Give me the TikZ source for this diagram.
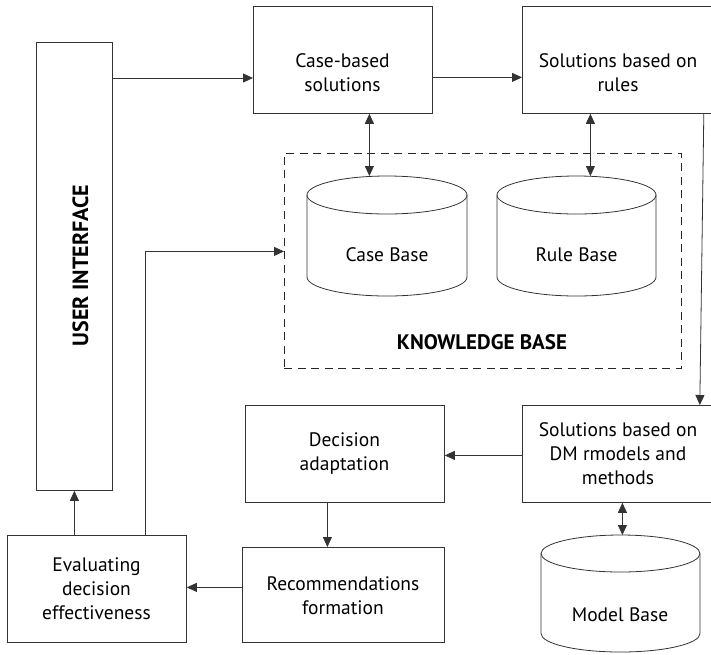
\documentclass[tikz,border=0pt]{standalone}
\usepackage{fontspec}
\setmainfont{PT Sans}
\usetikzlibrary{arrows.meta}
\begin{document}
\begin{tikzpicture}[x=1pt,y=-1pt,
  line width=0.8pt,
  every node/.style={font=\fontsize{19.5}{24}\selectfont, text=black},
  box/.style={draw=black!80, rectangle, inner sep=0pt, anchor=north west},
  kbox/.style={draw=black!85, dash pattern=on 8pt off 5.5pt, rectangle, inner sep=0pt, anchor=north west},
  txt/.style={align=center, inner sep=0pt},
  bold/.style={font=\fontsize{21}{25}\selectfont\bfseries},
  arr/.style={draw=black!80, -{Triangle[length=10pt,width=9pt]}},
  darr/.style={draw=black!80, {Triangle[length=10pt,width=9pt]}-{Triangle[length=10pt,width=9pt]}},
  cyl/.style={draw=black!80}]
\useasboundingbox (0,0) rectangle (711,654);
\clip (0,0) rectangle (711,654);

% boxes
\node[box, minimum width=76, minimum height=448] (ui) at (36,42) {};
\node[box, minimum width=179, minimum height=107] (cs) at (253,6) {};
\node[box, minimum width=192, minimum height=107] (rules) at (522,6) {};
\node[kbox, minimum width=397, minimum height=215] (kb) at (284,153) {};
\node[box, minimum width=192, minimum height=97] (dm) at (522,405) {};
\node[box, minimum width=199, minimum height=97] (da) at (245,405) {};
\node[box, minimum width=202, minimum height=95] (rf) at (242,547) {};
\node[box, minimum width=179, minimum height=107] (ev) at (7,535) {};

% texts
\node[txt, bold, font=\fontsize{22}{26}\selectfont\bfseries, rotate=90] (ui-t) at (80.5,265.5) {USER INTERFACE};
\node[txt] (cs-t) at (342.5,73) {Case-based\\solutions};
\node[txt] (rules-t) at (618,73) {Solutions based on\\rules};
\node[txt] (dm-t) at (618,454) {Solutions based on\\DM rmodels and\\methods};
\node[txt] (da-t) at (344.5,454) {Decision\\adaptation};
\node[txt] (rf-t) at (343,596) {Recommendations\\formation};
\node[txt] (ev-t) at (96.5,589) {Evaluating\\decision\\effectiveness};
\node[txt, bold] (kb-t) at (482,342) {KNOWLEDGE BASE};

% cylinders
\draw[cyl] (387,195) ellipse [x radius=80pt, y radius=19pt];
\draw[cyl] (307,195) -- (307,277) arc[start angle=180, end angle=360, x radius=80pt, y radius=19pt] -- (467,195);
\draw[cyl] (576.5,195) ellipse [x radius=79.5pt, y radius=19pt];
\draw[cyl] (497,195) -- (497,277) arc[start angle=180, end angle=360, x radius=79.5pt, y radius=19pt] -- (656,195);
\draw[cyl] (620.5,553.5) ellipse [x radius=79.5pt, y radius=18.5pt];
\draw[cyl] (541,553.5) -- (541,633.5) arc[start angle=180, end angle=360, x radius=79.5pt, y radius=18.5pt] -- (700,553.5);
\node[txt] (cb) at (387,255) {Case Base};
\node[txt] (rb) at (576.5,255) {Rule Base};
\node[txt] (mb) at (620,615) {Model Base};
\coordinate (cbtop) at (387,176);
\coordinate (rbtop) at (576.5,176);
\coordinate (mbtop) at (620.5,535);

% connectors
\coordinate (a1) at ([yshift=-36]ui.north east);
\draw[arr] (a1) -- (a1 -| cs.west);
\coordinate (a2) at ([yshift=-17.5]cs.east);
\draw[arr] (a2) -- (a2 -| rules.west);
\coordinate (a3) at ([xshift=26.5]cs.south);
\draw[darr] (a3) -- (a3 |- cbtop);
\coordinate (a4) at ([xshift=-28]rules.south);
\draw[darr] (a4) -- (a4 |- rbtop);
\draw[arr] ([xshift=-11]rules.south east) -- ([xshift=-15]dm.north east);
\coordinate (a5) at ([yshift=-1.5]dm.west);
\draw[arr] (a5) -- (a5 -| da.east);
\coordinate (a6) at ([xshift=4]dm.south);
\draw[darr] (a6) -- (a6 |- mbtop);
\coordinate (a7) at ([xshift=-17.5]da.south);
\draw[arr] (a7) -- (a7 |- rf.north);
\coordinate (a8) at ([yshift=7.5]rf.west);
\draw[arr] (a8) -- (a8 -| ev.east);
\draw[arr] (ui.south |- ev.north) -- (ui.south);
\coordinate (a9) at ([xshift=48.5]ev.north);
\coordinate (a9b) at ([yshift=9.5]kb.west);
\draw[arr] (a9) |- (a9b);
\end{tikzpicture}
\end{document}
